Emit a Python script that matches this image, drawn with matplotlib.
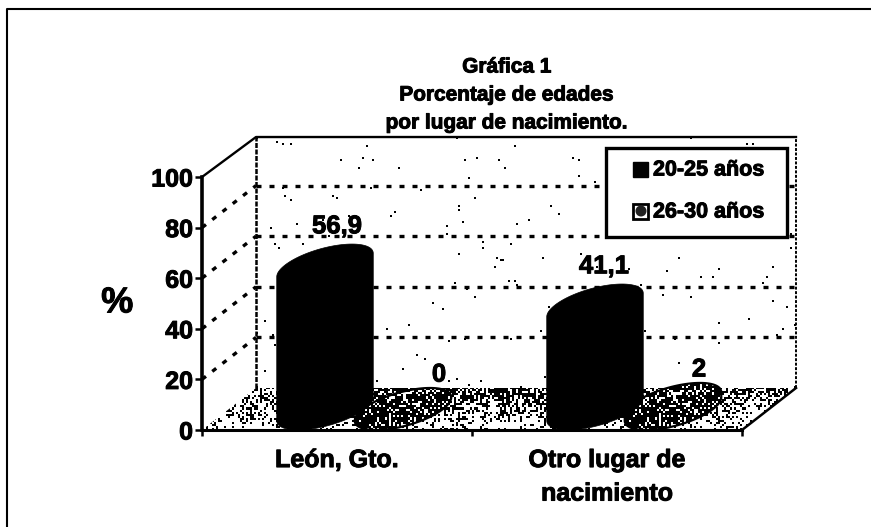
from __future__ import annotations

import matplotlib

matplotlib.use("Agg")

import matplotlib.patheffects as path_effects
import matplotlib.pyplot as plt
import numpy as np
from matplotlib.patches import Circle, Polygon, Rectangle
from matplotlib.text import Text

plt.rcParams["font.family"] = ["Liberation Sans", "DejaVu Sans"]
plt.rcParams["font.weight"] = "bold"
plt.rcParams["axes.labelweight"] = "bold"
plt.rcParams["hatch.linewidth"] = 1.0

categories = ["León, Gto.", "Otro lugar de\nnacimiento"]
series_names = ["20-25 años", "26-30 años"]
values_young = [56.9, 41.1]
values_old = [0, 2]
value_labels_young = ["56,9", "41,1"]
value_labels_old = ["0", "2"]
y_ticks = [0, 20, 40, 60, 80, 100]

WIDTH, HEIGHT = 871, 527

# front face of the 3D box, in pixels
FRONT_LEFT, FRONT_RIGHT = 202, 742
FRONT_BOTTOM, FRONT_TOP = 430, 177
DEPTH_X, DEPTH_Y = 54, 42

fig = plt.figure(figsize=(WIDTH / 100, HEIGHT / 100), dpi=100, facecolor="white")

# overlay in pixel coordinates: page frame, title, legend
page = fig.add_axes([0, 0, 1, 1])
page.set_xlim(0, WIDTH)
page.set_ylim(HEIGHT, 0)
page.axis("off")
page.set_zorder(3)
page.plot([7, 7, WIDTH], [HEIGHT, 9, 9], color="black", lw=1.5, clip_on=False)

ax = fig.add_axes(
    [
        FRONT_LEFT / WIDTH,
        1 - FRONT_BOTTOM / HEIGHT,
        (FRONT_RIGHT - FRONT_LEFT) / WIDTH,
        (FRONT_BOTTOM - FRONT_TOP) / HEIGHT,
    ]
)
ax.set_xlim(0, 2)
ax.set_ylim(0, 100)
ax.patch.set_alpha(0)

px_x = 2 / (FRONT_RIGHT - FRONT_LEFT)
px_y = 100 / (FRONT_BOTTOM - FRONT_TOP)
dx = DEPTH_X * px_x
dy = DEPTH_Y * px_y


def speckle(outline, density, zorder, cell=2):
    """Scan-like stipple clipped to outline; density(u, v) with u, v in 0..1."""
    outline = np.asarray(outline)
    x0, y0 = outline.min(axis=0)
    x1, y1 = outline.max(axis=0)
    cols = max(int((x1 - x0) / px_x / cell), 2)
    rows = max(int((y1 - y0) / px_y / cell), 2)
    jj, ii = np.meshgrid(np.arange(cols), np.arange(rows))
    grain = np.sin(ii * 12.9898 + jj * 78.233) * 43758.5453
    grain = grain - np.floor(grain)
    u, v = jj / (cols - 1), ii / (rows - 1)
    dark = grain < density(u, v)
    clip = Polygon(outline, closed=True, facecolor="none", lw=0, clip_on=False)
    ax.add_patch(clip)
    image = ax.imshow(
        1 - dark.astype(float),
        extent=(x0, x1, y0, y1),
        origin="lower",
        cmap="gray",
        vmin=0,
        vmax=1,
        aspect="auto",
        interpolation="nearest",
        zorder=zorder,
    )
    image.set_clip_box(fig.bbox)
    image.set_clip_path(clip)
    ax.set_xlim(0, 2)
    ax.set_ylim(0, 100)


def cylinder_outline(center_x, value):
    half_w = 40 * px_x
    start = np.arctan2(dx / 2, half_w)

    def ring(t, height):
        return np.column_stack(
            [
                center_x + half_w * np.cos(t) + dx / 2 * np.sin(t),
                dy / 2 + dy / 2 * np.sin(t) + height,
            ]
        )

    upper = ring(np.linspace(start, start + np.pi, 80), value)
    lower = ring(np.linspace(start + np.pi, start + 2 * np.pi, 80), 0)
    return np.vstack([upper, lower])


# back wall specks, gridlines and box edges
speckle(
    [(dx, dy), (2 + dx, dy), (2 + dx, 100 + dy - 0.8), (dx, 100 + dy - 0.8)],
    lambda u, v: 0.004 + 0 * u,
    zorder=0.5,
)
for tick in y_ticks[1:-1]:
    ax.plot([dx, 2 + dx], [tick + dy, tick + dy], color="black", lw=2.4,
            ls=(0, (1.5, 2.4)), clip_on=False, zorder=1)
    ax.plot([0, dx], [tick, tick + dy], color="black", lw=2.4,
            ls=(0, (1.5, 2.4)), clip_on=False, zorder=1)
ax.plot([dx, dx], [dy, 100 + dy - 0.8], color="black", lw=1.8, ls=(0, (2, 0.6)),
        clip_on=False, zorder=1)
ax.plot([2 + dx, 2 + dx], [dy, 100 + dy - 0.8], color="black", lw=1.4,
        ls=(0, (1.5, 0.8)), clip_on=False, zorder=1)
ax.plot([0, dx, 2 + dx], [100, 100 + dy - 0.8, 100 + dy - 0.8], color="black",
        lw=1.7, clip_on=False, zorder=1)

# stippled floor, darker at the back and in the middle
speckle(
    [(0, 0), (2, 0), (2 + dx, dy), (dx, dy)],
    lambda u, v: 0.14 + 0.6 * v * (1 - 0.55 * np.abs(2 * u - 1) ** 3),
    zorder=2,
)
ax.plot([2, 2 + dx], [0, dy], color="black", lw=1.8, clip_on=False, zorder=3)

# cylinders, centred on the mid depth of the floor
centers = np.array([0.5, 1.5])
bar_offset = 39 * px_x
young_label_shift = [12, 9]
old_label_shift = [36, 26]
for i in range(len(categories)):
    left = centers[i] + dx / 2 - bar_offset
    right = centers[i] + dx / 2 + bar_offset

    old_shape = cylinder_outline(right, values_old[i])
    speckle(old_shape, lambda u, v: 0.7 + 0.28 * (2 * u - 1) ** 2, zorder=4)
    ax.add_patch(Polygon(old_shape, closed=True, facecolor="none", edgecolor="black",
                         lw=1.6, clip_on=False, zorder=4.5))
    ax.add_patch(Polygon(cylinder_outline(left, values_young[i]), closed=True,
                         facecolor="black", edgecolor="black", lw=0.5, clip_on=False,
                         zorder=5))

    ax.text(left + young_label_shift[i] * px_x, values_young[i] + dy + 7,
            value_labels_young[i], ha="center", va="center", fontsize=18.5,
            clip_on=False, zorder=7)
    ax.text(right + old_label_shift[i] * px_x, values_old[i] + dy + 5.3,
            value_labels_old[i], ha="center", va="center", fontsize=18.5,
            clip_on=False, zorder=7)

# axes
ax.set_xticks([0, 1, 2])
ax.set_xticklabels([])
ax.set_xticks(centers, categories, minor=True, fontsize=18, linespacing=1.5)
ax.tick_params(axis="x", which="minor", length=0, pad=13)
ax.tick_params(axis="x", which="major", length=4, width=1.8, direction="out")
ax.set_yticks(y_ticks)
ax.tick_params(axis="y", labelsize=18, length=5, width=1.8, pad=1.5)
for side in ("top", "right"):
    ax.spines[side].set_visible(False)
ax.spines["left"].set_linewidth(2.6)
ax.spines["bottom"].set_linewidth(2.2)
ax.spines["left"].set_zorder(6)
ax.spines["bottom"].set_zorder(6)
ax.set_ylabel("%", fontsize=26, rotation=0, ha="center", va="center")
ax.yaxis.set_label_coords(-0.157, 0.502)

# title
page.text(507, 95, "Gráfica 1\nPorcentaje de edades\npor lugar de nacimiento.",
          ha="center", va="center", fontsize=15, linespacing=1.6)

# legend
page.add_patch(Rectangle((606, 148), 181, 89, facecolor="white", edgecolor="black",
                         lw=2.4, zorder=8))
page.add_patch(Rectangle((633, 162), 15, 15, facecolor="black", edgecolor="black",
                         lw=1, zorder=9))
page.add_patch(Rectangle((633, 204), 15, 15, facecolor="white", edgecolor="black",
                         lw=2, zorder=9))
page.add_patch(Circle((641, 211), 5.5, facecolor="#222222", edgecolor="none", zorder=10))
page.text(653, 170, series_names[0], ha="left", va="center", fontsize=15.5, zorder=9)
page.text(653, 212, series_names[1], ha="left", va="center", fontsize=15.5, zorder=9)

# the scan makes all the lettering a bit heavier
for text in fig.findobj(Text):
    text.set_path_effects([path_effects.withStroke(linewidth=0.7, foreground="black")])

fig.savefig("out.png", dpi=100)
plt.close(fig)
